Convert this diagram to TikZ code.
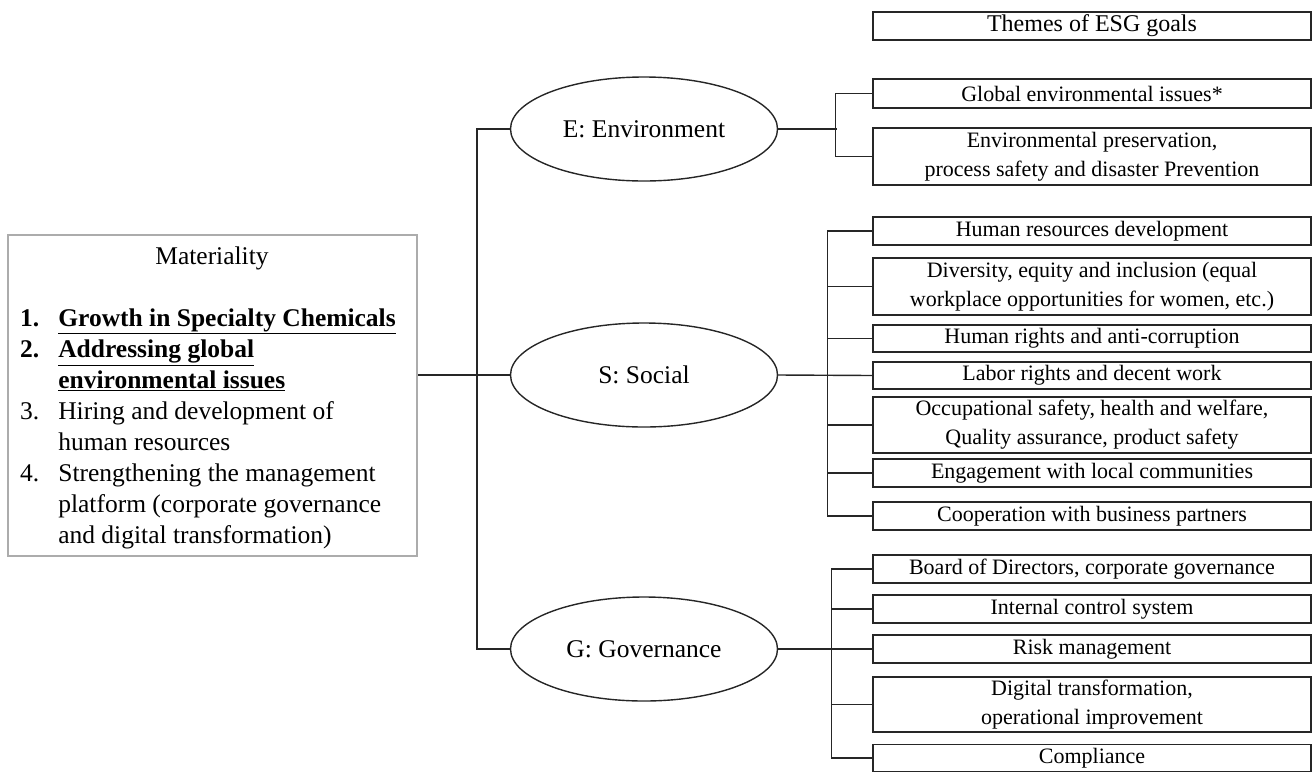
\documentclass[tikz,border=0pt]{standalone}
\usepackage{fontspec}
\setmainfont{Liberation Serif}
\usepackage{tikz}
\usetikzlibrary{shapes.geometric, positioning, calc}

\begin{document}
\begin{tikzpicture}[x=1pt, y=-1pt,
    theme/.style={draw=black!85, line width=1.4pt, rectangle, minimum width=438pt,
                  inner sep=0pt, align=center, font=\fontsize{22}{29}\selectfont},
    pillar/.style={draw=black!85, line width=1.4pt, ellipse, minimum width=267pt,
                   minimum height=104pt, inner sep=0pt, font=\fontsize{25.5}{31}\selectfont},
    link/.style={draw=black!85, line width=1.4pt}
  ]
  \useasboundingbox (0,0) rectangle (1314,772);
  % Materiality box
  \node[draw=gray!65, line width=2.4pt, minimum width=409pt, minimum height=321pt,
        inner sep=0pt] (mat) at (212.5, 395.5) {};
  \node[font=\fontsize{25.5}{31}\selectfont] (mattitle) at (212, 258) {Materiality};
  \node[anchor=west, inner sep=0pt, font=\fontsize{25.5}{31}\selectfont] (matlist) at (20, 429) {%
    \begin{tabular}{@{}l@{\hspace{19pt}}l@{}}
      \textbf{1.} & \textbf{\underline{Growth in Specialty Chemicals}}\\
      \textbf{2.} & \textbf{\underline{Addressing global}}\\
                  & \textbf{\underline{environmental issues}}\\
      3. & Hiring and development of\\
         & human resources\\
      4. & Strengthening the management\\
         & platform (corporate governance\\
         & and digital transformation)
    \end{tabular}};
  % ESG pillars
  \node[pillar] (env) at (644, 129) {E: Environment};
  \node[pillar] (soc) at (644, 375) {S: Social};
  \node[pillar] (gov) at (644, 649) {G: Governance};
  % Themes
  \node[theme, minimum height=28pt, font=\fontsize{24}{29}\selectfont] (themes) at (1092, 26)
    {Themes of ESG goals};
  \foreach \n/\y/\h/\txt in {e1/93.5/29/{Global environmental issues*},
      e2/156.5/57/{Environmental preservation,\\process safety and disaster Prevention},
      s1/231/28/{Human resources development},
      s2/286.5/57/{Diversity, equity and inclusion (equal\\workplace opportunities for women, etc.)},
      s3/338.5/27/{Human rights and anti-corruption},
      s4/375.5/27/{Labor rights and decent work},
      s5/425/56/{Occupational safety, health and welfare,\\Quality assurance, product safety},
      s6/473/28/{Engagement with local communities},
      s7/516/28/{Cooperation with business partners},
      g1/569/28/{Board of Directors, corporate governance},
      g2/609/28/{Internal control system},
      g3/649/28/{Risk management},
      g4/704.5/55/{Digital transformation,\\operational improvement},
      g5/758/27/{Compliance}} {
    \node[theme, minimum height=\h pt] (\n) at (1092, \y) {\txt};
  }
  % Materiality to pillars
  \draw[link] (soc.west -| mat.east) -- (soc.west);
  \draw[link] (env.west) -- ++(-33,0) |- (gov.west);
  % Environment
  \draw[link] (env.east) -- ++(59,0);
  \draw[link] (e1.west) -- ++(-37,0) |- (e2.west);
  % Social
  \draw[link] (soc.east) -- (s4.west);
  \draw[link] (s1.west) -- ++(-45,0) |- (s7.west);
  \foreach \n in {s2, s3, s5, s6}
    \draw[link] (\n.west) -- ++(-45,0);
  % Governance
  \draw[link] (gov.east) -- (g3.west);
  \draw[link] (g1.west) -- ++(-41,0) |- (g5.west);
  \foreach \n in {g2, g4}
    \draw[link] (\n.west) -- ++(-41,0);
\end{tikzpicture}
\end{document}
